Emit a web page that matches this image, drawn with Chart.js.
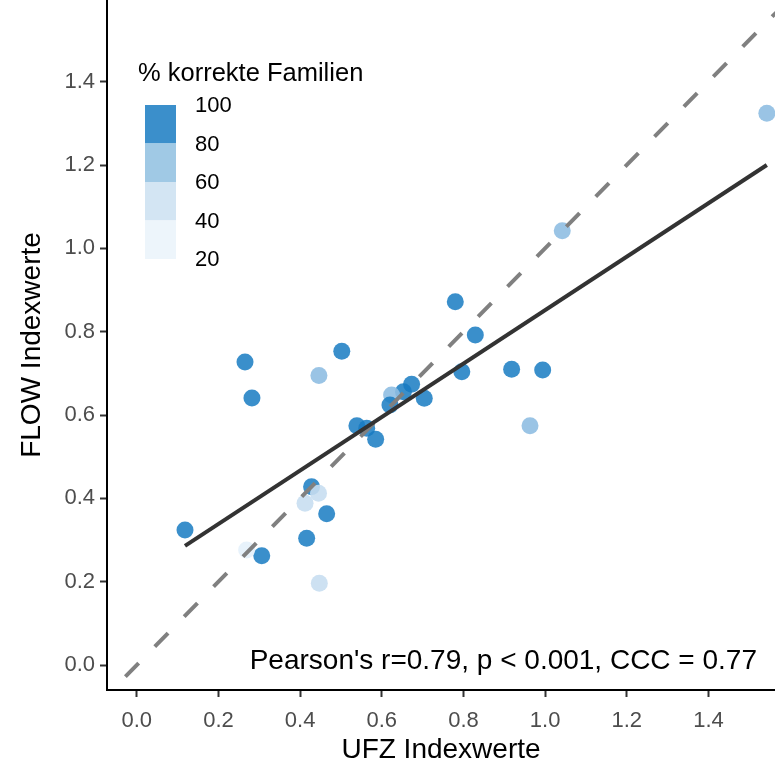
<!DOCTYPE html>
<html>
<head>
<meta charset="utf-8">
<script src="https://cdn.jsdelivr.net/npm/chart.js@4"></script>
<style>
html, body { margin: 0; padding: 0; background: #fff; }
#chart { display: block; }
</style>
</head>
<body>
<canvas id="chart" width="775" height="773"></canvas>
<script>
// index values per site, UFZ (x) against FLOW (y)
const ufzValues  = [0.118, 0.306, 0.265, 0.282, 0.502, 0.446, 0.428, 0.465, 0.416, 0.269,
                    0.447, 0.412, 0.445, 0.780, 0.829, 0.796, 0.918, 0.994, 0.963, 0.673,
                    0.653, 0.624, 0.620, 0.704, 0.539, 0.563, 0.585, 1.042, 1.543];
const flowValues = [0.324, 0.262, 0.727, 0.641, 0.753, 0.695, 0.428, 0.363, 0.304, 0.276,
                    0.196, 0.388, 0.412, 0.872, 0.792, 0.704, 0.710, 0.708, 0.574, 0.674,
                    0.656, 0.648, 0.624, 0.640, 0.574, 0.568, 0.542, 1.042, 1.324];
// % korrekte Familien per site
const pctCorrect = [90, 90, 90, 90, 90, 70, 90, 90, 90, 30,
                    50, 55, 55, 90, 90, 90, 90, 90, 70, 90,
                    90, 70, 90, 90, 90, 90, 90, 70, 70];

// regression line (ends at min / max UFZ value)
const fitX = [0.118, 1.543];
const fitY = [0.286, 1.200];
// 1:1 line
const oneToOne = [-0.1, 1.8];

const xTicks = [0, 0.2, 0.4, 0.6, 0.8, 1.0, 1.2, 1.4];
const yTicks = [0, 0.2, 0.4, 0.6, 0.8, 1.0, 1.2, 1.4];

// colour steps, legend is drawn top (100) to bottom (20)
const binBreaks  = [100, 80, 60, 40, 20];
const binColors  = ['#3b8fcb', '#a0c9e5', '#d3e5f3', '#edf5fb'];
const pointColors = ['rgba(23,123,194,0.85)', 'rgba(143,190,226,0.9)', 'rgba(200,222,241,0.9)', 'rgba(228,241,251,0.9)'];

const statText = "Pearson's r=0.79, p < 0.001, CCC = 0.77";

function binOf(p) {
    for (let i = 0; i < binBreaks.length - 1; i++) {
        if (p >= binBreaks[i + 1]) return i;
    }
    return binBreaks.length - 2;
}

const FONT = "'Liberation Sans', Arial, sans-serif";
Chart.defaults.font.family = FONT;

// legend + annotation drawn straight on the canvas
const extras = {
    id: 'extras',
    afterDraw(chart) {
        const ctx = chart.ctx;
        ctx.save();
        // legend title
        ctx.fillStyle = '#000';
        ctx.font = '25.5px ' + FONT;
        ctx.textAlign = 'left';
        ctx.textBaseline = 'middle';
        ctx.fillText('% korrekte Familien', 138, 74);
        // colour bar
        const bx = 145, bw = 31, by = 105, bh = 38.5;
        binColors.forEach((c, i) => {
            ctx.fillStyle = c;
            ctx.fillRect(bx, by + i * bh, bw, bh);
        });
        ctx.fillStyle = '#000';
        ctx.font = '22px ' + FONT;
        binBreaks.forEach((b, i) => {
            ctx.fillText(String(b), 195, by + i * bh + 1);
        });
        // stats
        ctx.font = '28px ' + FONT;
        ctx.textAlign = 'right';
        ctx.fillText(statText, 757, 661);
        ctx.restore();
    }
};

// no extra room for tick labels, the plot runs to the top/right edge
function noPad(s) {
    s.paddingTop = 0; s.paddingBottom = 0;
    s.paddingLeft = 0; s.paddingRight = 0;
}

new Chart(document.getElementById('chart'), {
    data: {
        datasets: [
            {
                type: 'line',
                data: oneToOne.map(v => ({ x: v, y: v })),
                borderColor: '#808080',
                borderWidth: 4,
                borderDash: [19, 23],
                pointRadius: 0,
                order: 1
            },
            {
                type: 'line',
                data: fitX.map((v, i) => ({ x: v, y: fitY[i] })),
                borderColor: '#333333',
                borderWidth: 4,
                pointRadius: 0,
                order: 0
            },
            {
                type: 'scatter',
                data: ufzValues.map((v, i) => ({ x: v, y: flowValues[i] })),
                backgroundColor: ctx => pointColors[binOf(pctCorrect[ctx.dataIndex])],
                borderWidth: 0,
                pointRadius: 8.5,
                pointHoverRadius: 8.5,
                order: 2
            }
        ]
    },
    options: {
        responsive: false,
        devicePixelRatio: 1,
        animation: false,
        layout: { padding: 0, autoPadding: false },
        plugins: {
            legend: { display: false },
            tooltip: { enabled: false }
        },
        scales: {
            x: {
                type: 'linear',
                position: 'bottom',
                min: -0.073,
                max: 1.563,
                afterBuildTicks: s => { s.ticks = xTicks.map(v => ({ value: v })); },
                afterFit: s => { s.height = 83; noPad(s); },
                ticks: {
                    font: { size: 22 },
                    color: '#4d4d4d',
                    padding: 11,
                    maxRotation: 0,
                    callback: v => v.toFixed(1)
                },
                grid: { drawOnChartArea: false, drawTicks: true, tickLength: 7, tickWidth: 2, tickColor: '#333' },
                border: { display: true, color: '#000', width: 2 },
                title: { display: true, text: 'UFZ Indexwerte', color: '#000', font: { size: 28 }, padding: { top: 0, bottom: 6 } }
            },
            y: {
                type: 'linear',
                min: -0.06,
                max: 1.596,
                afterBuildTicks: s => { s.ticks = yTicks.map(v => ({ value: v })); },
                afterFit: s => { s.width = 107; noPad(s); },
                ticks: {
                    font: { size: 22 },
                    color: '#4d4d4d',
                    padding: 5,
                    callback: v => v.toFixed(1)
                },
                grid: { drawOnChartArea: false, drawTicks: true, tickLength: 7, tickWidth: 2, tickColor: '#333' },
                border: { display: true, color: '#000', width: 2 },
                title: { display: true, text: 'FLOW Indexwerte', color: '#000', font: { size: 28 }, padding: { top: 15, bottom: 0 } }
            }
        }
    },
    plugins: [extras]
});
</script>
</body>
</html>
